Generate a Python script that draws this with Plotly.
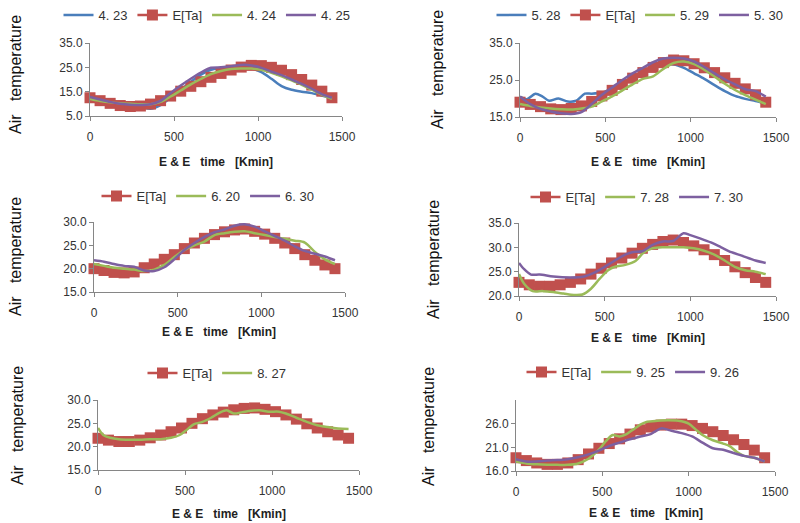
import plotly.graph_objects as go

HOURS = [0, 60, 120, 180, 240, 300, 360, 420, 480, 540, 600, 660, 720,
         780, 840, 900, 960, 1020, 1080, 1140, 1200, 1260, 1320, 1380, 1440]
X_TICKS = [0, 500, 1000, 1500]

# ---- Panel 1 (April) ----
p1_eta = [12.5, 11.3, 10.2, 9.3, 8.9, 9.1, 9.9, 11.3, 13.2, 15.2, 17.2, 19.1, 20.9,
          22.5, 23.9, 25.1, 25.8, 25.7, 25.0, 23.8, 22.0, 20.0, 17.7, 15.2, 12.5]
p1_0423 = [12.5, 11.8, 10.8, 10.0, 9.4, 8.8, 8.0, 9.5, 12.5, 15.8, 19.0, 22.0, 24.0,
           24.6, 25.0, 25.0, 24.6, 23.0, 20.3, 17.3, 15.8, 15.0, 14.4, 13.4, 12.2]
p1_0424 = [12.0, 11.2, 10.6, 10.2, 10.0, 9.8, 9.8, 10.8, 13.0, 15.5, 18.0, 20.2, 22.2,
           23.5, 24.3, 24.5, 24.5, 24.0, 22.8, 21.3, 19.6, 17.8, 15.8, 13.8, 12.0]
p1_0425 = [12.8, 11.8, 10.8, 10.0, 9.6, 9.5, 9.8, 11.2, 14.5, 17.5, 20.3, 22.8, 24.8,
           25.0, 25.5, 26.0, 25.8, 24.8, 23.2, 21.8, 20.0, 18.2, 16.2, 14.0, 12.5]

# ---- Panel 2 (May) ----
p2_eta = [19.0, 18.4, 17.8, 17.2, 17.0, 17.3, 18.0, 19.2, 20.7, 22.2, 23.8, 25.5, 27.0,
          28.4, 29.7, 30.4, 30.2, 29.4, 28.3, 27.0, 25.6, 24.1, 22.6, 21.0, 19.0]
p2_0528_t = [0, 40, 90, 130, 170, 225, 280, 330, 380, 420, 480, 540, 600, 660, 720,
             780, 840, 900, 960, 1020, 1080, 1140, 1200, 1260, 1320, 1380, 1440]
p2_0528 = [20.5, 19.8, 21.3, 20.6, 19.4, 20.0, 19.2, 19.4, 21.3, 21.3, 21.6, 22.8, 24.3,
           25.8, 27.2, 28.3, 29.0, 29.2, 28.3, 26.8, 25.3, 23.6, 22.0, 20.7, 19.9, 19.3, 18.6]
p2_0529 = [18.5, 18.0, 17.6, 17.3, 17.1, 17.0, 17.3, 17.8, 19.2, 20.6, 22.2, 23.8, 25.3,
           26.0, 28.0, 29.6, 30.0, 29.3, 27.8, 25.9, 24.0, 22.3, 20.9, 19.7, 18.5]
p2_0530 = [20.5, 18.5, 17.2, 16.5, 16.0, 15.8, 16.3, 18.5, 21.0, 23.0, 25.0, 26.8, 28.3,
           29.8, 30.8, 31.0, 30.8, 30.0, 28.5, 26.8, 25.2, 23.8, 22.5, 22.0, 20.5]

# ---- Panel 3 (June) ----
p3_eta = [20.0, 19.6, 19.2, 19.1, 19.3, 20.2, 21.0, 22.0, 23.0, 24.3, 25.5, 26.5, 27.3,
          27.9, 28.3, 28.5, 28.0, 27.4, 26.5, 25.5, 24.3, 23.0, 21.8, 20.8, 20.0]
p3_0620 = [21.0, 20.6, 20.2, 20.0, 19.8, 19.5, 19.8, 20.8, 22.5, 24.0, 25.0, 25.8, 27.2,
           27.6, 27.9, 28.0, 27.6, 27.2, 26.8, 26.4, 26.0, 25.6, 23.6, 22.0, 21.0]
p3_0630 = [21.8, 21.5, 21.0, 20.6, 20.4, 19.6, 19.5, 20.3, 22.0, 24.0, 25.5, 26.8, 27.8,
           28.4, 29.2, 29.5, 29.0, 28.0, 27.0, 26.0, 24.8, 23.8, 23.2, 22.6, 21.8]

# ---- Panel 4 (July) ----
p4_eta = [22.8, 22.3, 22.0, 22.0, 22.3, 22.8, 23.5, 24.5, 25.7, 26.8, 27.8, 28.8, 29.8,
          30.6, 31.2, 31.5, 31.0, 30.3, 29.5, 28.5, 27.3, 26.0, 24.8, 23.8, 22.8]
p4_0728_t = [0, 30, 80, 140, 200, 260, 320, 370, 420, 470, 520, 560, 620, 680, 730,
             780, 840, 900, 960, 1020, 1080, 1140, 1200, 1260, 1320, 1380, 1440]
p4_0728 = [24.5, 22.5, 21.0, 21.0, 20.8, 20.5, 20.2, 20.3, 21.5, 23.5, 25.3, 26.0, 26.4,
           27.2, 29.0, 29.8, 30.0, 30.0, 30.0, 29.8, 29.3, 28.5, 27.3, 26.0, 25.3, 25.0, 24.5]
p4_0730_t = [0, 30, 70, 120, 200, 300, 380, 440, 500, 560, 620, 660, 720, 780, 840,
             900, 960, 1000, 1060, 1120, 1180, 1240, 1300, 1380, 1440]
p4_0730 = [26.8, 25.5, 24.4, 24.4, 24.0, 23.8, 24.0, 24.8, 26.0, 27.3, 28.5, 29.0, 29.2,
           30.5, 31.2, 31.3, 32.9, 32.5, 31.8, 31.0, 30.0, 29.0, 28.3, 27.3, 26.8]

# ---- Panel 5 (August) ----
p5_eta = [21.8, 21.4, 21.1, 21.1, 21.4, 21.9, 22.5, 23.2, 24.0, 25.0, 26.0, 26.8, 27.4,
          27.9, 28.2, 28.3, 28.0, 27.5, 26.8, 25.9, 24.9, 24.0, 23.2, 22.5, 21.8]
p5_0827_t = [0, 30, 70, 120, 180, 240, 300, 360, 420, 470, 510, 550, 600, 650, 700,
             740, 780, 830, 880, 930, 980, 1040, 1080, 1140, 1200, 1260, 1320, 1380, 1440]
p5_0827 = [24.0, 22.5, 21.9, 21.6, 21.5, 21.5, 21.6, 21.6, 21.9, 22.5, 23.6, 24.8, 25.3,
           26.2, 27.3, 27.8, 27.1, 27.4, 27.7, 27.8, 27.5, 27.5, 27.1, 26.2, 25.3, 24.6,
           24.2, 23.9, 23.8]

# ---- Panel 6 (September) ----
p6_eta = [18.8, 18.2, 17.7, 17.4, 17.4, 17.7, 18.4, 19.6, 20.8, 21.8, 22.8, 23.8, 24.7,
          25.3, 25.7, 25.9, 25.9, 25.6, 25.0, 24.3, 23.5, 22.6, 21.6, 20.4, 18.8]
p6_0925_t = [0, 60, 120, 180, 240, 300, 360, 420, 480, 520, 560, 600, 640, 680, 720,
             760, 820, 880, 940, 1000, 1040, 1080, 1140, 1200, 1240, 1280, 1320, 1380, 1440]
p6_0925 = [18.0, 17.6, 17.4, 17.3, 17.3, 17.3, 17.6, 18.6, 20.5, 22.3, 23.6, 23.3, 23.8,
           24.8, 25.8, 26.4, 26.6, 26.7, 26.6, 26.0, 24.8, 23.6, 22.5, 21.8, 21.2, 20.0,
           19.2, 18.8, 18.0]
p6_0926 = [18.5, 18.0, 18.0, 18.2, 18.3, 18.5, 18.9, 19.5, 20.3, 21.3, 22.0, 22.7, 23.3,
           23.8, 25.0, 24.5, 24.0, 23.3, 22.0, 20.8, 20.5, 19.8, 19.2, 18.8, 18.0]

BLUE = "#4A7EBB"
RED = "#C0504D"
GREEN = "#9BBB59"
PURPLE = "#7D60A0"
AXIS = "#868686"
FONT = "Liberation Sans, Arial, sans-serif"
W, H = 800, 523

fig = go.Figure()

def line_trace(x, y, name, color, axn, leg):
    return go.Scatter(x=x, y=y, name=name, mode="lines",
                      line=dict(color=color, width=2.5, shape="spline", smoothing=0.8),
                      xaxis="x" + axn, yaxis="y" + axn, legend=leg, cliponaxis=False,
                      hoverinfo="skip")

def eta_trace(x, y, axn, leg):
    return go.Scatter(x=x, y=y, name="E[Ta]", mode="lines+markers",
                      line=dict(color=RED, width=2.5),
                      marker=dict(symbol="square", size=11, color=RED),
                      xaxis="x" + axn, yaxis="y" + axn, legend=leg, cliponaxis=False,
                      hoverinfo="skip")

panels = [
    dict(box=(90, 342, 43, 116), yr=[5, 35], yt=[5, 15, 25, 35],
         traces=[("line", HOURS, p1_0423, "4. 23", BLUE), ("eta", HOURS, p1_eta),
                 ("line", HOURS, p1_0424, "4. 24", GREEN), ("line", HOURS, p1_0425, "4. 25", PURPLE)],
         leg=(207, 15), xt=162, yti=(15, 75)),
    dict(box=(520, 776, 43, 117), yr=[15, 35], yt=[15, 25, 35],
         traces=[("line", p2_0528_t, p2_0528, "5. 28", BLUE), ("eta", HOURS, p2_eta),
                 ("line", HOURS, p2_0529, "5. 29", GREEN), ("line", HOURS, p2_0530, "5. 30", PURPLE)],
         leg=(640, 15), xt=162, yti=(437, 70)),
    dict(box=(94, 345, 222, 292), yr=[15, 30], yt=[15, 20, 25, 30],
         traces=[("eta", HOURS, p3_eta), ("line", HOURS, p3_0620, "6. 20", GREEN),
                 ("line", HOURS, p3_0630, "6. 30", PURPLE)],
         leg=(208, 196), xt=332, yti=(15, 257)),
    dict(box=(519, 776, 223, 296), yr=[20, 35], yt=[20, 25, 30, 35],
         traces=[("eta", HOURS, p4_eta), ("line", p4_0728_t, p4_0728, "7. 28", GREEN),
                 ("line", p4_0730_t, p4_0730, "7. 30", PURPLE)],
         leg=(637, 197), xt=338, yti=(433, 260)),
    dict(box=(98, 359, 400, 470), yr=[15, 30], yt=[15, 20, 25, 30],
         traces=[("eta", HOURS, p5_eta), ("line", p5_0827_t, p5_0827, "8. 27", GREEN)],
         leg=(217, 373), xt=514, yti=(17, 426)),
    dict(box=(516, 775, 400, 471), yr=[16, 31], yt=[16, 21, 26],
         traces=[("eta", HOURS, p6_eta), ("line", p6_0925_t, p6_0925, "9. 25", GREEN),
                 ("line", HOURS, p6_0926, "9. 26", PURPLE)],
         leg=(633, 372), xt=513, yti=(428, 427)),
]

layout = dict(width=W, height=H,
              margin=dict(l=0, r=0, t=0, b=0, autoexpand=False),
              paper_bgcolor="white", plot_bgcolor="white", showlegend=True,
              font=dict(family=FONT, size=12, color="#404040"))
annotations = []
NB = "\u00a0"

for i, p in enumerate(panels, start=1):
    axn = "" if i == 1 else str(i)
    leg = "legend" if i == 1 else "legend" + str(i)
    l, r, t, b = p["box"]
    xdom = [l / W, r / W]
    ydom = [1 - b / H, 1 - t / H]
    common = dict(showline=True, linecolor=AXIS, linewidth=1, ticks="outside",
                  ticklen=4, tickcolor=AXIS, showgrid=False, zeroline=False,
                  automargin=False,
                  tickfont=dict(family=FONT, size=12, color="#333333"))
    layout["xaxis" + axn] = dict(domain=xdom, range=[0, 1500], tickvals=X_TICKS,
                                 anchor="y" + axn, ticklabelstandoff=6, **common)
    layout["yaxis" + axn] = dict(domain=ydom, range=p["yr"], tickvals=p["yt"],
                                 tickformat=".1f", anchor="x" + axn, **common)
    for tr in p["traces"]:
        if tr[0] == "eta":
            fig.add_trace(eta_trace(tr[1], tr[2], axn, leg))
        else:
            fig.add_trace(line_trace(tr[1], tr[2], tr[3], tr[4], axn, leg))
    cx, cy = p["leg"]
    layout[leg] = dict(orientation="h", x=cx / W, y=1 - cy / H, xanchor="center",
                       yanchor="middle", bgcolor="rgba(0,0,0,0)",
                       font=dict(family=FONT, size=13, color="#333333"),
                       itemwidth=30, tracegroupgap=0)
    annotations.append(dict(text="<b>E & E" + NB * 3 + "time" + NB * 3 + "[Kmin]</b>",
                            x=(l + r) / 2 / W, y=1 - p["xt"] / H, xref="paper", yref="paper",
                            showarrow=False, xanchor="center", yanchor="middle",
                            font=dict(family=FONT, size=12, color="#222222")))
    yx, yy = p["yti"]
    annotations.append(dict(text="Air" + NB * 3 + "temperature", textangle=-90,
                            x=yx / W, y=1 - yy / H, xref="paper", yref="paper",
                            showarrow=False, xanchor="center", yanchor="middle",
                            font=dict(family=FONT, size=16, color="#111111")))

layout["annotations"] = annotations
fig.update_layout(**layout)
fig.write_html("out.html",
               config={"displayModeBar": False},
               post_script="document.body.style.margin='0';"
                           "document.body.style.padding='0';"
                           "document.body.style.overflow='hidden';")
